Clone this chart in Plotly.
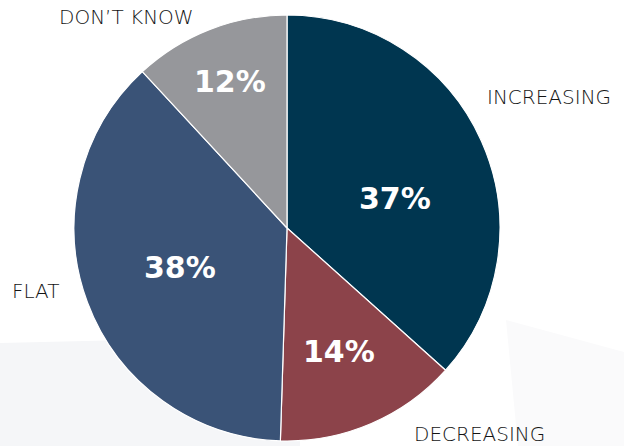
import plotly.graph_objects as go

# Share of responses by expected trend
categories = ["INCREASING", "DECREASING", "FLAT", "DON\u2019T KNOW"]
shares = [37, 14, 38, 12]
colors = ["#003650", "#8C434A", "#3A5377", "#96979B"]

W, H = 624, 446

# pie placement in pixels (centre and radius)
cx, cy, r = 287, 228, 213

fig = go.Figure()

fig.add_trace(go.Pie(
    labels=categories,
    values=shares,
    sort=False,
    direction="clockwise",
    rotation=0,
    marker=dict(colors=colors, line=dict(color="#FFFFFF", width=1.2)),
    textinfo="none",
    hoverinfo="label+value",
    showlegend=False,
    domain=dict(x=[(cx - r) / W, (cx + r) / W],
                y=[(H - cy - r) / H, (H - cy + r) / H]),
))

# faint background panels
fig.add_shape(type="path",
              path=f"M 0 {H-343} L 300 {H-336} L 300 0 L 0 0 Z",
              xref="x", yref="y", fillcolor="#F5F6F8", line=dict(width=0), layer="below")
fig.add_shape(type="path",
              path=f"M 506 {H-320} L 624 {H-352} L 624 0 L 518 0 Z",
              xref="x", yref="y", fillcolor="#FAFAFB", line=dict(width=0), layer="below")

# percentage labels inside the slices (pixel positions of each label)
pct_pos = {
    "INCREASING": (395, 198),
    "DECREASING": (339, 351),
    "FLAT": (180, 267),
    "DON\u2019T KNOW": (230, 81),
}
for name, val in zip(categories, shares):
    x, y = pct_pos[name]
    fig.add_annotation(x=x, y=H - y, xref="x", yref="y", text=f"<b>{val}%</b>",
                       showarrow=False, xanchor="center", yanchor="middle",
                       font=dict(family="DejaVu Sans", size=30, color="#FFFFFF"))

# category labels around the pie
label_pos = {
    "INCREASING": (485, 97),
    "DECREASING": (412, 434),
    "FLAT": (10, 291),
    "DON\u2019T KNOW": (57, 17),
}
for name in categories:
    x, y = label_pos[name]
    fig.add_annotation(x=x, y=H - y, xref="x", yref="y", text=name,
                       showarrow=False, xanchor="left", yanchor="middle",
                       font=dict(family="DejaVu Sans", size=20,
                                 color="#141414", weight=300))

fig.update_layout(
    width=W, height=H,
    margin=dict(l=0, r=0, t=0, b=0),
    paper_bgcolor="#FFFFFF",
    plot_bgcolor="rgba(0,0,0,0)",
    xaxis=dict(range=[0, W], visible=False, fixedrange=True),
    yaxis=dict(range=[0, H], visible=False, fixedrange=True),
)

fig.write_html("out.html")
